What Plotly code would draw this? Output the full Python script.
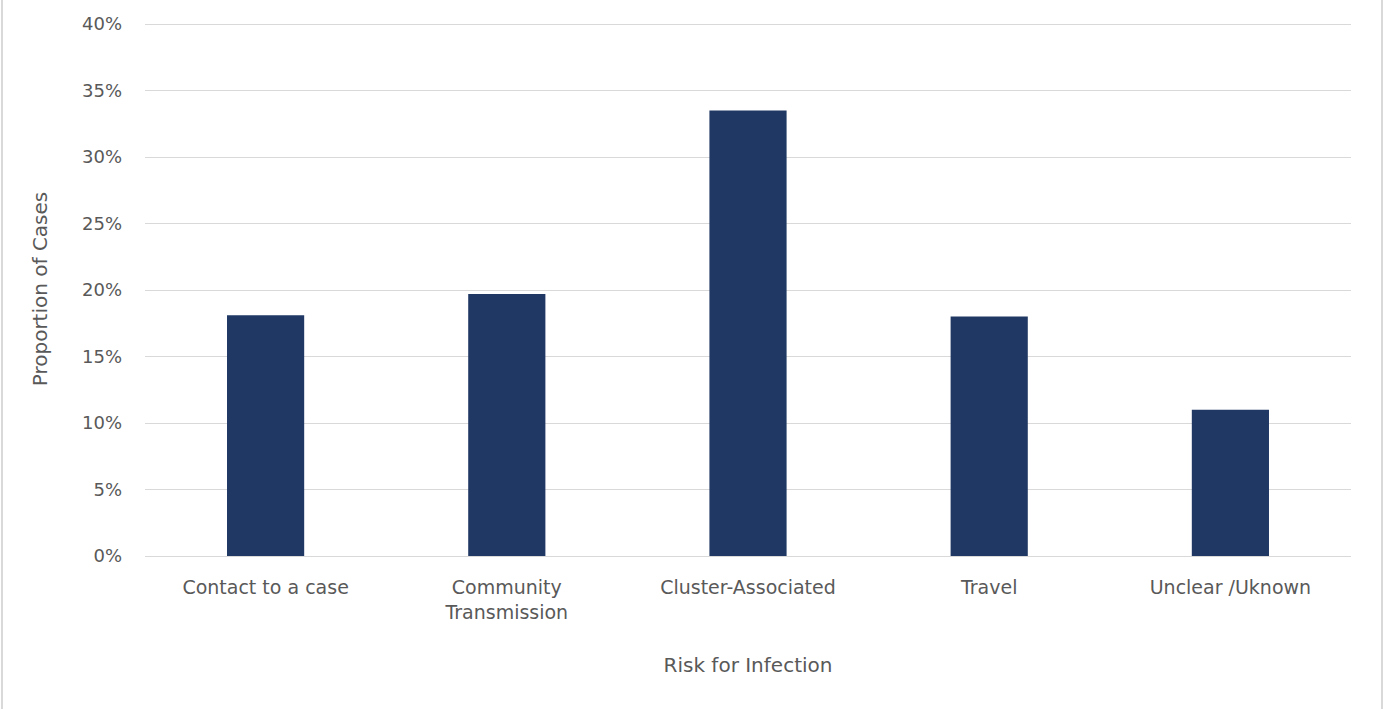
import plotly.graph_objects as go

categories = ["Contact to a case", "Community<br>Transmission", "Cluster-Associated", "Travel", "Unclear /Uknown"]
proportions = [0.181, 0.197, 0.335, 0.180, 0.110]
y_ticks = [0, 0.05, 0.10, 0.15, 0.20, 0.25, 0.30, 0.35, 0.40]
y_tick_labels = ["0%", "5%", "10%", "15%", "20%", "25%", "30%", "35%", "40%"]

font_family = "DejaVu Sans, sans-serif"
text_color = "#595959"

W, H = 1384, 709
L, R, T, B = 145, 33, 22, 153
PW, PH = W - L - R, H - T - B

fig = go.Figure(go.Bar(
    x=categories,
    y=proportions,
    marker=dict(color="#203864", line=dict(color="#203864", width=0)),
))

fig.update_layout(
    width=W, height=H,
    margin=dict(l=L, r=R, t=T, b=B),
    paper_bgcolor="white", plot_bgcolor="white",
    bargap=0.68,
    showlegend=False,
    font=dict(family=font_family, size=18, color=text_color),
    xaxis=dict(
        showgrid=False, showline=False, ticks="",
        tickfont=dict(size=19, color=text_color),
        ticklabelstandoff=18,
        title=dict(text="Risk for Infection", font=dict(size=20, color=text_color), standoff=36),
    ),
    yaxis=dict(
        range=[0, 0.40 * PH / (PH - 2)], tickvals=y_ticks, ticktext=y_tick_labels,
        showgrid=True, gridcolor="#D9D9D9", gridwidth=1,
        zeroline=True, zerolinecolor="#D9D9D9", zerolinewidth=1,
        showline=False, ticks="", ticklabelstandoff=22,
        tickfont=dict(size=18, color=text_color),
        title=dict(text="Proportion of Cases", font=dict(size=20, color=text_color), standoff=28),
    ),
)

for px in (2, 1382):
    fig.add_shape(type="line", xref="paper", yref="paper",
                  x0=(px - L) / PW, x1=(px - L) / PW, y0=-B / PH, y1=(PH + T) / PH,
                  line=dict(color="#D9D9D9", width=2), layer="below")

fig.write_html("out.html", config={"displayModeBar": False},
               post_script="document.body.style.margin='0';")
